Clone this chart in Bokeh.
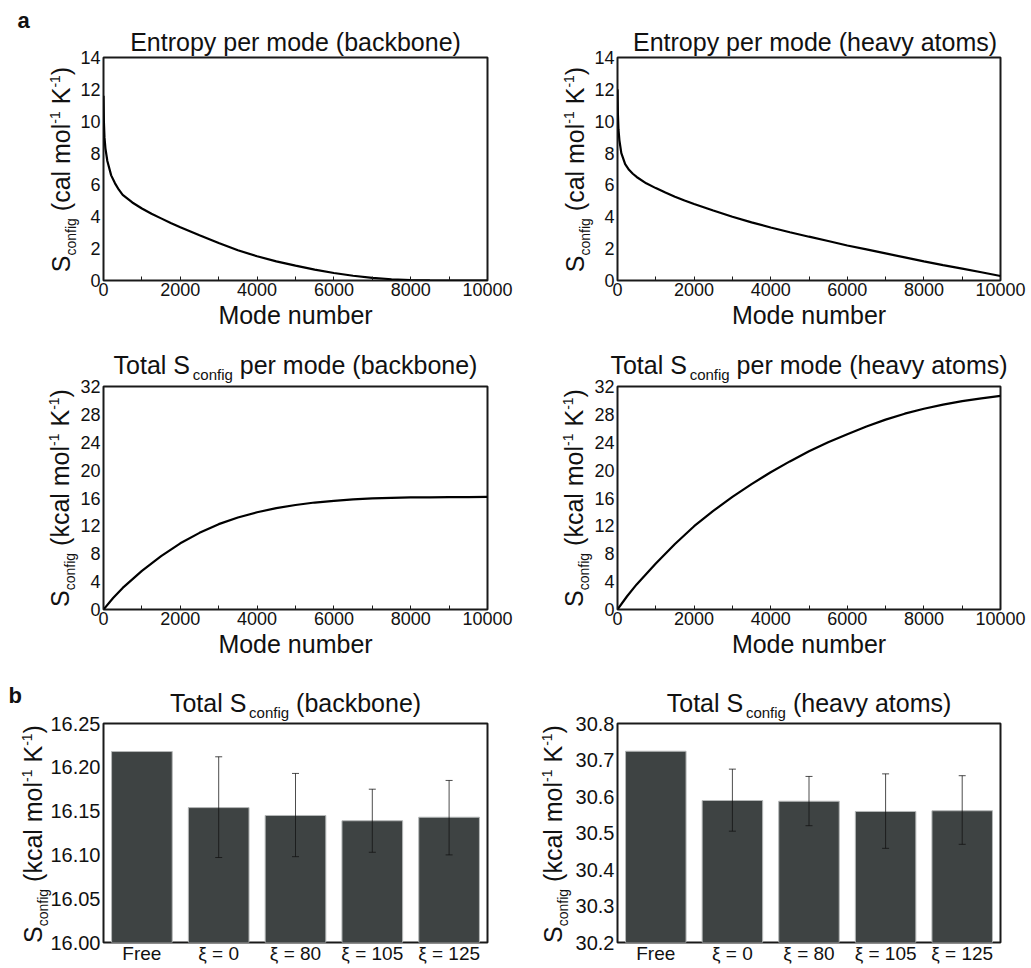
import math
from bokeh.plotting import figure
from bokeh.models import (Range1d, FactorRange, FixedTicker, PrintfTickFormatter,
                          Whisker, TeeHead, ColumnDataSource)
from bokeh.layouts import column, row
from bokeh.core.properties import value
from bokeh.embed import file_html
from bokeh.resources import INLINE

# ---------------- data ----------------
modes_pm = [0, 10, 25, 50, 100, 200, 300, 400, 500, 750, 1000, 1250, 1500, 1750, 2000, 2500, 3000, 3500,
            4000, 4500, 5000, 5500, 6000, 6500, 7000, 7500, 8000, 8500, 9000, 9500, 10000]
s_mode_backbone = [11.6, 10.0, 9.0, 8.3, 7.5, 6.6, 6.1, 5.7, 5.38, 4.9, 4.52, 4.19, 3.9, 3.61, 3.34, 2.84, 2.35, 1.9,
                   1.52, 1.2, 0.93, 0.68, 0.47, 0.3, 0.17, 0.08, 0.03, 0.01, 0.0, 0.0, 0.0]
s_mode_heavy = [12.0, 10.5, 9.5, 8.8, 8.0, 7.3, 6.95, 6.7, 6.5, 6.1, 5.8, 5.52, 5.26, 5.02, 4.8, 4.39, 4.0, 3.65,
                3.33, 3.03, 2.75, 2.48, 2.2, 1.95, 1.7, 1.45, 1.2, 0.97, 0.75, 0.52, 0.28]

modes_tot = [0, 250, 500, 1000, 1500, 2000, 2500, 3000, 3500, 4000, 4500, 5000,
             5500, 6000, 6500, 7000, 7500, 8000, 8500, 9000, 9500, 10000]
s_tot_backbone = [0, 1.65, 3.1, 5.55, 7.65, 9.5, 11.0, 12.25, 13.2, 13.95, 14.55, 15.0,
                  15.35, 15.6, 15.8, 15.95, 16.03, 16.08, 16.1, 16.12, 16.13, 16.15]
s_tot_heavy = [0, 1.9, 3.6, 6.6, 9.4, 11.95, 14.15, 16.15, 18.0, 19.7, 21.25, 22.7,
               24.0, 25.15, 26.25, 27.25, 28.1, 28.8, 29.4, 29.9, 30.3, 30.65]

conditions = ["Free", "ξ = 0", "ξ = 80", "ξ = 105", "ξ = 125"]
bb_total = [16.218, 16.154, 16.145, 16.139, 16.143]
bb_upper = [None, 16.212, 16.193, 16.175, 16.185]
bb_lower = [None, 16.097, 16.098, 16.103, 16.100]
ha_total = [30.724, 30.589, 30.587, 30.559, 30.561]
ha_upper = [None, 30.675, 30.655, 30.662, 30.657]
ha_lower = [None, 30.505, 30.520, 30.458, 30.469]

mode_ticks = [0, 2000, 4000, 6000, 8000, 10000]
mode_minor = [1000, 3000, 5000, 7000, 9000]
pm_ticks = [0, 2, 4, 6, 8, 10, 12, 14]
tot_ticks = [0, 4, 8, 12, 16, 20, 24, 28, 32]
bb_ticks = [16.00, 16.05, 16.10, 16.15, 16.20, 16.25]
ha_ticks = [30.2, 30.3, 30.4, 30.5, 30.6, 30.7, 30.8]

titles = [
    [("Entropy per mode (backbone)", "m")],
    [("Entropy per mode (heavy atoms)", "m")],
    [("Total S", "m"), ("config", "s"), (" per mode (backbone)", "m")],
    [("Total S", "m"), ("config", "s"), (" per mode (heavy atoms)", "m")],
    [("Total S", "m"), ("config", "s"), (" (backbone)", "m")],
    [("Total S", "m"), ("config", "s"), (" (heavy atoms)", "m")],
]
ylab_cal = [("S", "m"), ("config", "s"), (" (cal mol", "m"), ("-1", "p"), (" K", "m"), ("-1", "p"), (")", "m")]
ylab_kcal = [("S", "m"), ("config", "s"), (" (kcal mol", "m"), ("-1", "p"), (" K", "m"), ("-1", "p"), (")", "m")]
ylabels = [ylab_cal, ylab_cal, ylab_kcal, ylab_kcal, ylab_kcal, ylab_kcal]

# ---------------- styling helpers ----------------
FONT = "Liberation Sans"
INK = "#111111"
BASE_FIX = 0.32  # empirical shift so that the drawn baseline sits where intended
W = {'E': 667, 'T': 611, 'S': 667, 'K': 667, 'M': 833, 'F': 611,
     'a': 556, 'b': 556, 'c': 500, 'd': 556, 'e': 556, 'f': 278, 'g': 556, 'h': 556,
     'i': 222, 'k': 500, 'l': 222, 'm': 833, 'n': 556, 'o': 556, 'p': 556, 'r': 333,
     's': 500, 't': 278, 'u': 556, 'v': 500, 'y': 500, ' ': 278, '(': 333, ')': 333,
     '-': 333}


def tw(s, size):
    return sum(W.get(ch, 556) for ch in s) / 1000.0 * size


def base_fig(width, height, xr, yr, bl, br, bt, bb):
    p = figure(width=width, height=height, x_range=xr, y_range=yr, title=None,
               output_backend="svg", toolbar_location=None,
               min_border_left=bl, min_border_right=br, min_border_top=bt, min_border_bottom=bb)
    p.grid.visible = False
    p.outline_line_color = "#1a1a1a"
    p.outline_line_width = 2
    p.background_fill_color = "white"
    p.border_fill_color = "white"
    for ax in (p.xaxis, p.yaxis):
        ax.axis_line_color = None
        ax.major_label_text_font = FONT
        ax.major_label_text_color = INK
    return p


def line_fig(width, height, bl, br, bt, bb, xs, ys, yticks):
    p = base_fig(width, height, Range1d(0, 10000), Range1d(yticks[0], yticks[-1]), bl, br, bt, bb)
    p.line(xs, ys, line_color="black", line_width=2.2)
    p.xaxis.ticker = FixedTicker(ticks=mode_ticks, minor_ticks=mode_minor)
    p.xaxis.major_tick_in = 4
    p.xaxis.major_tick_out = 0
    p.xaxis.minor_tick_in = 4
    p.xaxis.minor_tick_out = 0
    p.xaxis.major_tick_line_color = "#1a1a1a"
    p.xaxis.minor_tick_line_color = "#1a1a1a"
    p.xaxis.major_label_text_font_size = "18px"
    p.xaxis.major_label_standoff = 2
    p.xaxis.axis_label = "Mode number"
    p.xaxis.axis_label_text_font = FONT
    p.xaxis.axis_label_text_font_size = "25px"
    p.xaxis.axis_label_text_font_style = "normal"
    p.xaxis.axis_label_text_color = INK
    p.xaxis.axis_label_standoff = 2
    p.yaxis.ticker = FixedTicker(ticks=yticks)
    p.yaxis.major_tick_in = 0
    p.yaxis.major_tick_out = 0
    p.yaxis.minor_tick_line_color = None
    p.yaxis.major_label_text_font_size = "18px"
    p.yaxis.major_label_standoff = 3
    return p


def bar_fig(width, height, bl, br, bt, bb, vals, up, lo, yticks, fmt):
    p = base_fig(width, height, FactorRange(factors=conditions), Range1d(yticks[0], yticks[-1]),
                 bl, br, bt, bb)
    src = ColumnDataSource(dict(cat=conditions, top=vals))
    p.vbar(x="cat", top="top", bottom=yticks[0], width=0.79, source=src,
           fill_color="#3e4343", line_color="#b5b8b8", line_width=1)
    ec = [c for c, u in zip(conditions, up) if u is not None]
    esrc = ColumnDataSource(dict(cat=ec, upper=[u for u in up if u is not None],
                                 lower=[l for l in lo if l is not None]))
    wk = Whisker(source=esrc, base="cat", upper="upper", lower="lower",
                 line_color=INK, line_alpha=0.75, line_width=1, level="overlay",
                 upper_head=TeeHead(size=7, line_color=INK, line_alpha=0.75, line_width=1),
                 lower_head=TeeHead(size=7, line_color=INK, line_alpha=0.75, line_width=1))
    p.add_layout(wk)
    p.xaxis.major_tick_in = 0
    p.xaxis.major_tick_out = 0
    p.xaxis.major_label_text_font_size = "19px"
    p.xaxis.major_label_standoff = 0
    p.yaxis.ticker = FixedTicker(ticks=yticks)
    p.yaxis.formatter = PrintfTickFormatter(format=fmt)
    p.yaxis.major_tick_in = 0
    p.yaxis.major_tick_out = 0
    p.yaxis.minor_tick_line_color = None
    p.yaxis.major_label_text_font_size = "20px"
    p.yaxis.major_label_standoff = 3
    return p


# ---------------- geometry (page pixels, origin top-left) ----------------
LW, RW = 515, 514
LBL, LBR = 103, 28
RBL, RBR = 102, 29
H = [331, 333, 302]
TB = [57, 55, 59]
BB = [50, 55, 22]
TOTAL_W, TOTAL_H = LW + RW, sum(H)

figs = []
figs.append(line_fig(LW, H[0], LBL, LBR, TB[0], BB[0], modes_pm, s_mode_backbone, pm_ticks))
figs.append(line_fig(RW, H[0], RBL, RBR, TB[0], BB[0], modes_pm, s_mode_heavy, pm_ticks))
figs.append(line_fig(LW, H[1], LBL, LBR, TB[1], BB[1], modes_tot, s_tot_backbone, tot_ticks))
figs.append(line_fig(RW, H[1], RBL, RBR, TB[1], BB[1], modes_tot, s_tot_heavy, tot_ticks))
figs.append(bar_fig(LW, H[2], LBL, LBR, TB[2], BB[2], bb_total, bb_upper, bb_lower, bb_ticks, "%.2f"))
figs.append(bar_fig(RW, H[2], RBL, RBR, TB[2], BB[2], ha_total, ha_upper, ha_lower, ha_ticks, "%.1f"))

frames = []
for i in range(6):
    r, c = divmod(i, 2)
    x0 = 0 if c == 0 else LW
    w = LW if c == 0 else RW
    bl, br = (LBL, LBR) if c == 0 else (RBL, RBR)
    y0 = sum(H[:r])
    frames.append((x0 + bl, x0 + w - br, y0 + TB[r], y0 + H[r] - BB[r]))

# ---------------- text overlay figure (pixel coordinates) ----------------
ov = figure(width=TOTAL_W, height=TOTAL_H, x_range=Range1d(0, TOTAL_W), y_range=Range1d(TOTAL_H, 0),
            title=None, output_backend="svg", toolbar_location=None,
            x_axis_location=None, y_axis_location=None,
            min_border_left=0, min_border_right=0, min_border_top=0, min_border_bottom=0)
ov.grid.visible = False
ov.outline_line_color = None
ov.background_fill_alpha = 0
ov.border_fill_alpha = 0
ov.margin = (-TOTAL_H, 0, 0, 0)


def put_text(x, y, t, size, angle=0.0, bold=False):
    if angle == 0.0:
        y = y - BASE_FIX * size
    else:
        x = x - BASE_FIX * size
    ov.text(x=[x], y=[y], text=[t], angle=angle, text_font=value(FONT),
            text_font_size=f"{size}px", text_font_style="bold" if bold else "normal",
            text_align="left", text_baseline="alphabetic", text_color=INK)


title_gap = [8, 14, 13]
title_dx = [0, 6, 0, 0, 0, 0]
ylab_off = [35, 35, 36, 36, 63, 57]
for i in range(6):
    fl, fr, ft, fbm = frames[i]
    r = i // 2
    pieces = titles[i]
    total = sum(tw(t, 25 if k == "m" else 15) for t, k in pieces)
    x = (fl + fr) / 2 - total / 2 + title_dx[i]
    for t, k in pieces:
        size = 25 if k == "m" else 15
        lead = len(t) - len(t.lstrip())
        put_text(x + lead * W[' '] / 1000 * size, ft - title_gap[r] + (7 if k == "s" else 0), t.strip(), size)
        x += tw(t, size)
    pieces = ylabels[i]
    total = sum(tw(t, 25 if k == "m" else 14) for t, k in pieces)
    y = (ft + fbm) / 2 + total / 2
    bx = fl - ylab_off[i]
    for t, k in pieces:
        size = 25 if k == "m" else 14
        lead = len(t) - len(t.lstrip())
        xoff = bx + (7 if k == "s" else 0) + (-9 if k == "p" else 0)
        put_text(xoff, y - lead * W[' '] / 1000 * size, t.strip(), size, angle=math.pi / 2)
        y -= tw(t, size)

put_text(frames[0][0] - 86, frames[0][2] - 30, "a", 22, bold=True)
put_text(frames[4][0] - 95, frames[4][2] - 21, "b", 22, bold=True)

layout = column(row(figs[0], figs[1]), row(figs[2], figs[3]), row(figs[4], figs[5]), ov)
open("out.html", "w").write(file_html(layout, INLINE))
